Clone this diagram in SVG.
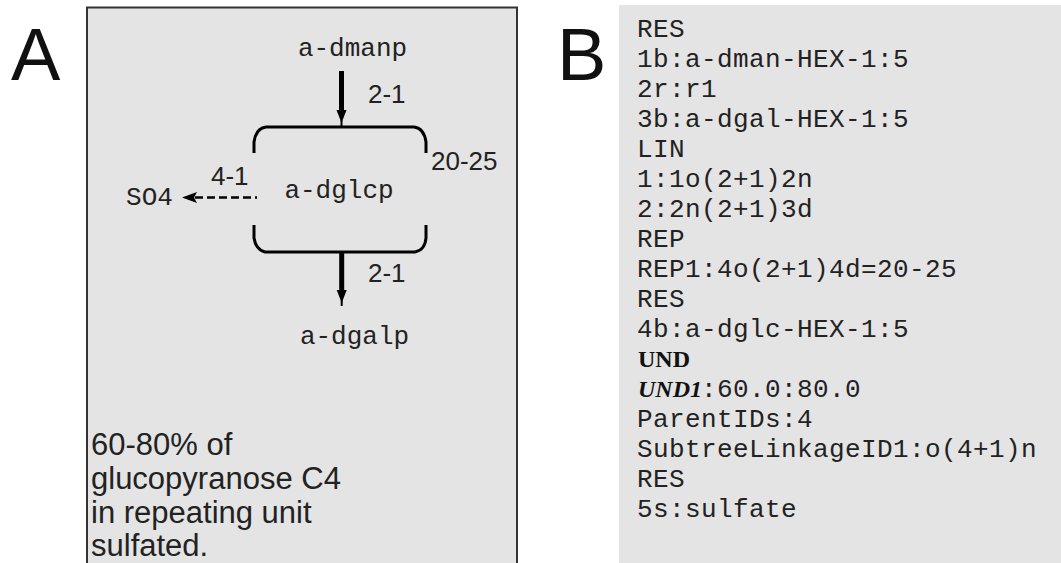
<svg xmlns="http://www.w3.org/2000/svg" width="1061" height="563" viewBox="0 0 1061 563">
<style>
.mono{font-family:"Liberation Mono","Courier New",monospace;font-size:26px;fill:#222}
.code{letter-spacing:0.4px}
.sans{font-family:"Liberation Sans",Arial,sans-serif;fill:#222}
.lbl{font-family:"Liberation Sans",Arial,sans-serif;font-size:26px;fill:#222}
.big{font-family:"Liberation Sans",Arial,sans-serif;font-size:74px;fill:#111}
.serifb{font-family:"Liberation Serif","Times New Roman",serif;font-weight:bold;font-size:24px;fill:#111}
.edge{stroke:#000;fill:none}
.br{stroke:#000;stroke-width:3;fill:none}
</style>
<rect x="0" y="0" width="1061" height="563" fill="#fff"/>
<text class="big" x="11" y="80">A</text>
<text class="big" x="557" y="80">B</text>
<g id="panelA">
<rect x="87" y="7.5" width="430" height="570" fill="#e4e4e4" stroke="#333" stroke-width="2"/>
</g>
<g id="node-dmanp"><text class="mono" x="352.5" y="56" text-anchor="middle">a-dmanp</text></g>
<g id="node-dglcp">
<text class="mono" x="339" y="197.5" text-anchor="middle">a-dglcp</text>
</g>
<g id="node-dgalp"><text class="mono" x="354.5" y="344" text-anchor="middle">a-dgalp</text></g>
<g id="node-SO4"><text class="mono" x="149.5" y="205" text-anchor="middle">SO4</text></g>
<g id="repeat-brackets">
<path class="br" d="M254,153 L254,142 Q256,128 266,127 L414,127 Q424,128 426,142 L426,153"/>
<path class="br" d="M254,225 L254,238 Q256,250 265,252 L415,252 Q425,250 426,238 L426,225"/>
<text class="lbl" x="431" y="170">20-25</text>
</g>
<g id="connectors">
<line class="edge" x1="341.5" y1="71" x2="341.5" y2="112" stroke-width="5"/>
<polygon points="336.5,110 346.5,110 341.5,123" fill="#000"/>
<line class="edge" x1="341.5" y1="120" x2="341.5" y2="127" stroke-width="2"/>
<text class="lbl" x="368" y="103">2-1</text>
<line class="edge" x1="341.7" y1="252" x2="341.7" y2="292" stroke-width="5"/>
<polygon points="336.7,290 346.7,290 341.7,303" fill="#000"/>
<line class="edge" x1="341.7" y1="300" x2="341.7" y2="306" stroke-width="2"/>
<text class="lbl" x="368" y="282">2-1</text>
<line class="edge" x1="195" y1="197.5" x2="257" y2="197.5" stroke-width="2.5" stroke-dasharray="8,4"/>
<polygon points="182,197.5 197,192 194,197.5 197,203" fill="#000"/>
<text class="lbl" x="211" y="185">4-1</text>
</g>
<g id="note">
<text class="sans" font-size="31" x="91" y="455">60-80% of</text>
<text class="sans" font-size="31" x="91" y="489">glucopyranose C4</text>
<text class="sans" font-size="31" x="91" y="523">in repeating unit</text>
<text class="sans" font-size="31" x="91" y="556">sulfated.</text>
</g>
<g id="panelB">
<rect x="619" y="5" width="442" height="558" fill="#e4e4e4"/>
<text class="mono code" x="637" y="37">RES</text>
<text class="mono code" x="637" y="67">1b:a-dman-HEX-1:5</text>
<text class="mono code" x="637" y="97">2r:r1</text>
<text class="mono code" x="637" y="127">3b:a-dgal-HEX-1:5</text>
<text class="mono code" x="637" y="157">LIN</text>
<text class="mono code" x="637" y="187">1:1o(2+1)2n</text>
<text class="mono code" x="637" y="217">2:2n(2+1)3d</text>
<text class="mono code" x="637" y="247">REP</text>
<text class="mono code" x="637" y="277">REP1:4o(2+1)4d=20-25</text>
<text class="mono code" x="637" y="307">RES</text>
<text class="mono code" x="637" y="337">4b:a-dglc-HEX-1:5</text>
<text class="serifb" x="638" y="367">UND</text>
<text x="638" y="397"><tspan class="serifb" font-style="italic">UND1</tspan><tspan class="mono code" x="701">:60.0:80.0</tspan></text>
<text class="mono code" x="637" y="427">ParentIDs:4</text>
<text class="mono code" x="637" y="457">SubtreeLinkageID1:o(4+1)n</text>
<text class="mono code" x="637" y="487">RES</text>
<text class="mono code" x="637" y="517">5s:sulfate</text>
</g>
</svg>
